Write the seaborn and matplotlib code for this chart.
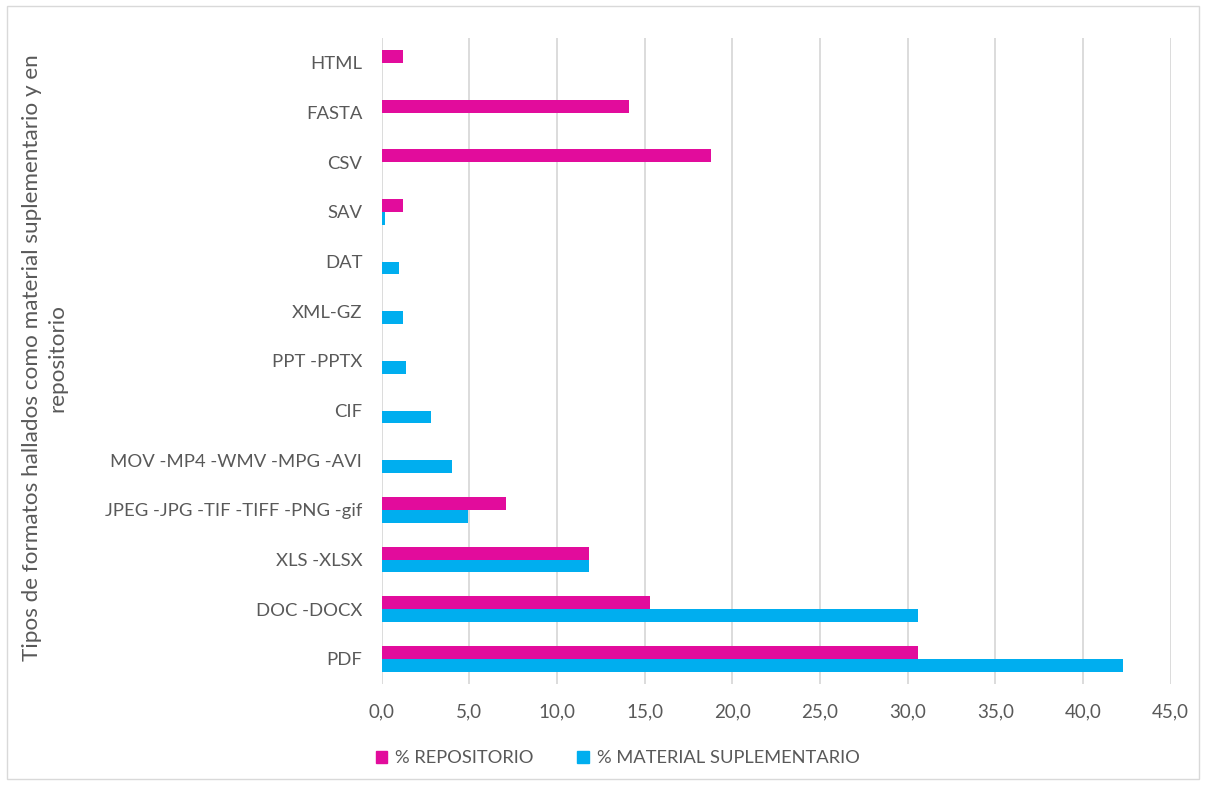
import matplotlib
matplotlib.use("Agg")
import matplotlib.pyplot as plt
from matplotlib.patches import Rectangle
from matplotlib.ticker import FuncFormatter
import numpy as np
import pandas as pd
import seaborn as sns

# Formatos de archivo (de arriba hacia abajo)
categorias = [
    "HTML", "FASTA", "CSV", "SAV", "DAT", "XML-GZ", "PPT -PPTX", "CIF",
    "MOV -MP4 -WMV -MPG -AVI", "JPEG -JPG -TIF -TIFF -PNG -gif",
    "XLS -XLSX", "DOC -DOCX", "PDF",
]
# Porcentajes por serie (NaN = sin presencia)
pct_repositorio = [1.2, 14.1, 18.8, 1.2, np.nan, np.nan, np.nan, np.nan,
                   np.nan, 7.1, 11.8, 15.3, 30.6]
pct_material = [np.nan, np.nan, np.nan, 0.2, 1.0, 1.2, 1.4, 2.8,
                4.0, 4.9, 11.8, 30.6, 42.3]
series = ["% REPOSITORIO", "% MATERIAL SUPLEMENTARIO"]
colores = ["#E20C9C", "#00AEEF"]
x_ticks = [0, 5, 10, 15, 20, 25, 30, 35, 40, 45]

df = pd.DataFrame({
    "formato": categorias * 2,
    "valor": pct_repositorio + pct_material,
    "serie": [series[0]] * len(categorias) + [series[1]] * len(categorias),
})

sns.set_theme(style="white")
plt.rcParams["font.family"] = ["Lato", "DejaVu Sans"]
gris = "#595959"

fig = plt.figure(figsize=(12.06, 7.85), dpi=100)
ax = fig.add_axes([0.3165, 0.1290, 0.6542, 0.8226])

sns.barplot(
    data=df, y="formato", x="valor", hue="serie",
    order=categorias, hue_order=series, palette=colores,
    orient="h", width=0.52, linewidth=0, saturation=1,
    errorbar=None, ax=ax, legend=True,
)

ax.set_xlim(0, 45)
ax.set_xticks(x_ticks)
ax.xaxis.set_major_formatter(FuncFormatter(lambda v, p: f"{v:.1f}".replace(".", ",")))
ax.grid(axis="x", color="#D9D9D9", linewidth=1.3)
ax.set_axisbelow(True)
for s in ax.spines.values():
    s.set_visible(False)
ax.tick_params(axis="both", length=0, colors=gris)
ax.tick_params(axis="x", pad=14, labelsize=13.5)
ax.tick_params(axis="y", pad=14, labelsize=13.3)
ax.set_xlabel("")
ax.set_ylabel("")

ax.legend_.remove()
handles = [Rectangle((0, 0), 1, 1, color=c) for c in colores]
fig.legend(handles, series, loc="center", bbox_to_anchor=(0.512, 0.034),
           ncol=2, frameon=False, handlelength=0.65, handleheight=0.65,
           handletextpad=0.4, columnspacing=2.4, fontsize=13.2,
           labelcolor=gris)

fig.text(0.037, 1 - 358 / 785,
         "Tipos de formatos hallados como material suplementario y en\nrepositorio",
         rotation=90, ha="center", va="center", multialignment="center",
         fontsize=16.2, color=gris, linespacing=1.3)

# Marco exterior del gráfico
fig.patches.append(Rectangle((7 / 1206, 6 / 785), 1192 / 1206, 773 / 785,
                             transform=fig.transFigure, fill=False,
                             edgecolor="#D9D9D9", linewidth=1.0))

fig.savefig("out.png", dpi=100, facecolor="white")
